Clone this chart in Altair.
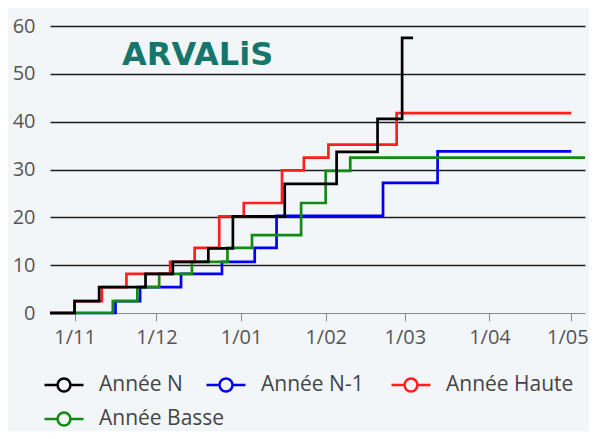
import altair as alt
import pandas as pd

series_names = ["Année N", "Année N-1", "Année Haute", "Année Basse"]
series_colors = ["#000000", "#0000ee", "#ff1f1f", "#138a13"]

n_dates = ["2023-10-23", "2023-11-01", "2023-11-10", "2023-11-27", "2023-12-07", "2023-12-20",
           "2023-12-29", "2024-01-17", "2024-02-05", "2024-02-20", "2024-02-29", "2024-03-04"]
n_values = [0, 2.5, 5.4, 8.2, 10.7, 13.5, 20.2, 27.0, 33.7, 40.6, 57.5, 57.5]

n1_dates = ["2023-10-23", "2023-11-16", "2023-11-25", "2023-12-10", "2023-12-25", "2024-01-06",
            "2024-01-14", "2024-02-22", "2024-03-13", "2024-05-01"]
n1_values = [0, 2.5, 5.4, 8.2, 10.7, 13.6, 20.3, 27.2, 33.8, 33.8]

haute_dates = ["2023-10-23", "2023-11-01", "2023-11-11", "2023-11-20", "2023-12-06", "2023-12-15",
               "2023-12-24", "2024-01-02", "2024-01-16", "2024-01-24", "2024-02-02", "2024-02-27",
               "2024-05-01"]
haute_values = [0, 2.5, 5.4, 8.2, 10.7, 13.6, 20.2, 23.0, 29.8, 32.5, 35.2, 41.8, 41.8]

basse_dates = ["2023-10-23", "2023-11-15", "2023-11-24", "2023-12-02", "2023-12-14", "2023-12-27",
               "2024-01-05", "2024-01-23", "2024-02-01", "2024-02-10", "2024-05-06"]
basse_values = [0, 2.5, 5.4, 8.2, 10.7, 13.6, 16.3, 23.0, 29.7, 32.5, 32.5]

x_ticks = ["2023-11-01", "2023-12-01", "2024-01-01", "2024-02-01", "2024-03-01", "2024-04-01", "2024-05-01"]
y_ticks = [0, 10, 20, 30, 40, 50, 60]

frames = []
for name, d, v in [("Année N", n_dates, n_values), ("Année N-1", n1_dates, n1_values),
                   ("Année Haute", haute_dates, haute_values), ("Année Basse", basse_dates, basse_values)]:
    frames.append(pd.DataFrame({"serie": name, "date": d, "valeur": v}))
df = pd.concat(frames, ignore_index=True)

FONT = "Open Sans"
LINE_W = 2.7
symbol_path = "M-1,0L-0.33,0M0.33,0L1,0M0.33,0A0.33,0.33,0,1,1,-0.33,0A0.33,0.33,0,1,1,0.33,0Z"

x_enc = alt.X(
    "date:T",
    scale=alt.Scale(domain=["2023-10-23", "2024-05-06"]),
    axis=alt.Axis(values=x_ticks, format="%-d/%m", title=None, grid=False,
                  domainColor="#8a8a8a", tickColor="#8a8a8a", tickSize=8,
                  labelFontSize=20, labelColor="#555555", labelFont=FONT, labelPadding=6,
                  labelFlush=False,
                  labelOffset={"condition": {"test": "month(datum.value) === 4", "value": -4},
                               "value": 0}),
)
y_enc = alt.Y(
    "valeur:Q",
    scale=alt.Scale(domain=[0, 60], nice=False),
    axis=alt.Axis(values=y_ticks, title=None, domain=False, ticks=False,
                  gridColor={"condition": {"test": "datum.value === 0", "value": "transparent"},
                             "value": "#1e1e1e"},
                  gridWidth=1.3,
                  labelFontSize=20, labelColor="#555555", labelFont=FONT, labelPadding=15),
)

ROW1 = 338
ROW2 = 372


def legend_for(color, lx, ly):
    return alt.Legend(orient="none", legendX=lx, legendY=ly, title=None,
                      symbolType=symbol_path, symbolSize=1521, symbolStrokeWidth=2.5,
                      symbolStrokeColor=color, symbolFillColor="transparent",
                      labelFontSize=21, labelColor="#444444", labelFont=FONT, labelOffset=14)


def series(name):
    return df[df["serie"] == name]


col = dict(zip(series_names, series_colors))

layer_n1 = alt.Chart(series("Année N-1")).mark_line(
    interpolate="step-after", strokeWidth=LINE_W, color=col["Année N-1"]
).encode(
    x=x_enc, y=y_enc,
    strokeDash=alt.StrokeDash("serie:N", scale=alt.Scale(domain=["Année N-1"], range=[[1, 0]]),
                              legend=legend_for(col["Année N-1"], 155, ROW1)),
)

layer_basse = alt.Chart(series("Année Basse")).mark_line(
    interpolate="step-after", strokeWidth=LINE_W
).encode(
    x=x_enc, y=y_enc,
    stroke=alt.Stroke("serie:N", scale=alt.Scale(domain=["Année Basse"], range=[col["Année Basse"]]),
                      legend=legend_for(col["Année Basse"], -7, ROW2)),
)

layer_haute = alt.Chart(series("Année Haute")).mark_line(
    interpolate="step-after", strokeWidth=LINE_W, color=col["Année Haute"]
).encode(
    x=x_enc, y=y_enc,
    opacity=alt.Opacity("serie:N", scale=alt.Scale(domain=["Année Haute"], range=[1]),
                        legend=legend_for(col["Année Haute"], 340, ROW1)),
)

layer_n = alt.Chart(series("Année N")).mark_line(
    interpolate="step-after", strokeWidth=LINE_W
).encode(
    x=x_enc, y=y_enc,
    color=alt.Color("serie:N", scale=alt.Scale(domain=["Année N"], range=[col["Année N"]]),
                    legend=legend_for(col["Année N"], -7, ROW1)),
)

chart = alt.layer(layer_n1, layer_basse, layer_haute, layer_n).properties(
    width=535, height=287,
    autosize=alt.AutoSizeParams(type="none"),
    padding={"left": 42, "top": 18, "right": 4, "bottom": 118},
    title=alt.TitleParams("ARVALiS", anchor="start", font="DejaVu Sans", fontSize=32,
                          fontWeight="bold", color="#17766b", dx=72, dy=56, offset=0,
                          baseline="top", frame="group"),
    background="#f3f6f9",
).configure_view(stroke=None)

chart.save("out.html", embed_options={"renderer": "svg", "actions": False})
